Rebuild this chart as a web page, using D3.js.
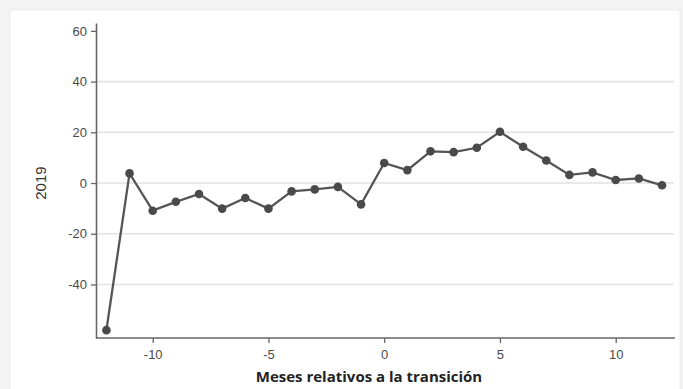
<!DOCTYPE html>
<html>
<head>
<meta charset="utf-8">
<script src="https://cdn.jsdelivr.net/npm/d3@7"></script>
<style>
  html, body { margin: 0; padding: 0; background: #f3f3f3; }
  svg { display: block; }
</style>
</head>
<body>
<svg id="chart" width="683" height="389"></svg>
<script>
// Months relative to the transition and the 2019 estimate for each month
const months = [-12, -11, -10, -9, -8, -7, -6, -5, -4, -3, -2, -1, 0, 1, 2, 3, 4, 5, 6, 7, 8, 9, 10, 11, 12];
const values2019 = [-58.0, 3.8, -10.9, -7.4, -4.3, -10.1, -5.9, -10.1, -3.3, -2.5, -1.5, -8.4, 7.9, 5.1, 12.5, 12.2, 13.9, 20.2, 14.3, 8.9, 3.2, 4.2, 1.2, 1.8, -0.9];
const yTicks = [-40, -20, 0, 20, 40, 60];
const yGrid = [-40, -20, 0, 20, 40];
const xTicks = [-10, -5, 0, 5, 10];

const svg = d3.select("#chart");

// white panel
svg.append("rect").attr("x", 10).attr("y", 10).attr("width", 670).attr("height", 385)
  .attr("fill", "#ffffff").attr("stroke", "#ececec");

const x = d3.scaleLinear().domain([-12, 12]).range([106.4, 662]);
const y = d3.scaleLinear().domain([-61.1, 63.1]).range([338, 23]);
const fmt = d => String(d);
const tickFont = "'Liberation Sans', Arial, sans-serif";

// horizontal grid lines
svg.append("g").selectAll("line").data(yGrid).join("line")
  .attr("x1", 96).attr("x2", 674)
  .attr("y1", d => y(d)).attr("y2", d => y(d))
  .attr("stroke", "#e2e2e2").attr("stroke-width", 1.6);

// y axis
const yAxis = svg.append("g").attr("transform", "translate(96,0)")
  .call(d3.axisLeft(y).tickValues(yTicks).tickFormat(fmt).tickSize(5).tickPadding(4).tickSizeOuter(0));
yAxis.select(".domain").attr("stroke", "#666").attr("stroke-width", 1.6);
yAxis.selectAll(".tick line").attr("stroke", "#666").attr("stroke-width", 1.3);
yAxis.selectAll(".tick text").attr("fill", "#4a4a4a")
  .style("font-family", tickFont).style("font-size", "13px");

// x axis
const xAxis = svg.append("g").attr("transform", "translate(0,338)")
  .call(d3.axisBottom(x).tickValues(xTicks).tickFormat(fmt).tickSize(5).tickPadding(7).tickSizeOuter(0));
xAxis.select(".domain").attr("d", "M96,0H675").attr("stroke", "#666").attr("stroke-width", 1.6);
xAxis.selectAll(".tick line").attr("stroke", "#666").attr("stroke-width", 1.3);
xAxis.selectAll(".tick text").attr("fill", "#4a4a4a")
  .style("font-family", tickFont).style("font-size", "13px");

// axis titles
svg.append("text")
  .attr("transform", `translate(46,${y(0)}) rotate(-90)`)
  .attr("text-anchor", "middle")
  .attr("fill", "#333")
  .style("font-family", tickFont).style("font-size", "15px")
  .text("2019");

svg.append("text")
  .attr("x", 369).attr("y", 382)
  .attr("text-anchor", "middle")
  .attr("fill", "#222")
  .style("font-family", "'Open Sans', sans-serif").style("font-size", "15px").style("font-weight", "700")
  .text("Meses relativos a la transición");

// series line and markers
const pts = months.map((m, i) => [m, values2019[i]]);
svg.append("path").datum(pts)
  .attr("fill", "none").attr("stroke", "#555").attr("stroke-width", 2.3)
  .attr("d", d3.line().x(d => x(d[0])).y(d => y(d[1])));

svg.append("g").selectAll("circle").data(pts).join("circle")
  .attr("cx", d => x(d[0])).attr("cy", d => y(d[1])).attr("r", 4.3)
  .attr("fill", "#4a4a4a");
</script>
</body>
</html>
